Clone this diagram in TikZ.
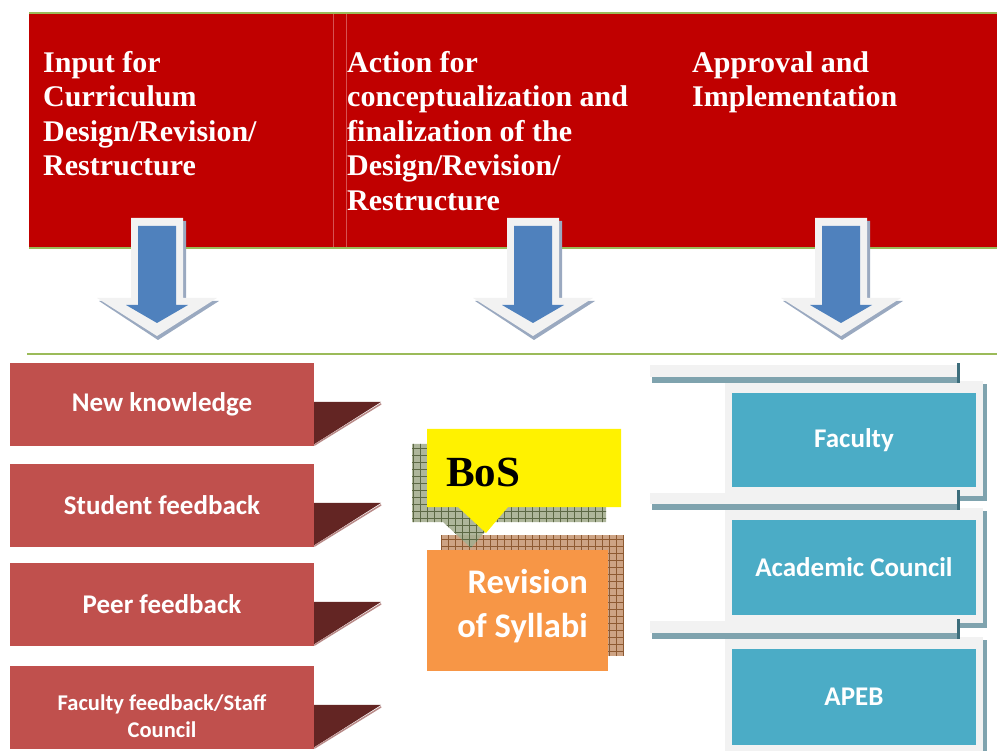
\documentclass[tikz,border=0pt]{standalone}
\usepackage{fontspec}
\setmainfont{Liberation Serif}
\newfontfamily\calibri{Carlito}
\definecolor{hdrred}{HTML}{C00000}
\definecolor{sepred}{HTML}{D65252}
\definecolor{grn}{HTML}{9BBB59}
\definecolor{boxred}{HTML}{C0504D}
\definecolor{wedge}{HTML}{632523}
\definecolor{wedgelt}{HTML}{B88A88}
\definecolor{arrblue}{HTML}{4F81BD}
\definecolor{arrsh}{HTML}{9AA9C0}
\definecolor{paleg}{HTML}{F2F2F2}
\definecolor{tealbox}{HTML}{4BACC6}
\definecolor{tealsh}{HTML}{7FA3AE}
\definecolor{tealdk}{HTML}{3D6E7C}
\definecolor{orng}{HTML}{F79646}
\definecolor{revsh}{HTML}{CDA384}
\definecolor{revln}{HTML}{8E5A32}
\definecolor{bossh}{HTML}{A5AE90}
\definecolor{bosln}{HTML}{5C6845}
\begin{document}
\begin{tikzpicture}[x=1pt,y=-1pt,
    hdr/.style={anchor=north west,inner sep=0,align=left,text=white,
      font=\bfseries\fontsize{30}{34.5}\selectfont},
    inbox/.style={fill=boxred,text=white,minimum width=304,minimum height=83,
      inner sep=0,align=center,font=\calibri\bfseries\fontsize{27}{32}\selectfont},
    tbox/.style={fill=tealbox,text=white,minimum width=244,minimum height=95,
      inner sep=0,font=\calibri\bfseries\fontsize{27}{32}\selectfont}]
    \useasboundingbox (0,0) rectangle (997,751);
    % header band
    \fill[hdrred] (29,14) rectangle (997,247);
    \draw[sepred,line width=0.8] (333,14) -- (333,247);
    \draw[sepred,line width=0.8] (346,14) -- (346,247);
    \draw[grn,line width=2.5] (29,13) -- (997,13);
    \draw[grn,line width=2.5] (29,248) -- (997,248);
    \draw[grn,line width=2.5] (27,354) -- (997,354);
    \node[hdr] (h1) at (43,51) {Input for\\Curriculum\\Design/Revision/\\Restructure};
    \node[hdr] (h2) at (347,51) {Action for\\conceptualization and\\finalization of the\\Design/Revision/\\Restructure};
    \node[hdr] (h3) at (692,51) {Approval and\\Implementation};
    % block arrows
    \foreach \c in {157,533,841} {
        \fill[arrsh] (\c-24,221) -- (\c+29,221) -- (\c+29,301) -- (\c+62,301) -- (\c+1,340)
          -- (\c-58,301) -- (\c-24,301) -- cycle;
        \fill[paleg] (\c-26,218) -- (\c+26,218) -- (\c+26,298) -- (\c+60,298) -- (\c,336)
          -- (\c-60,298) -- (\c-26,298) -- cycle;
        \fill[arrblue] (\c-19,226) -- (\c+19,226) -- (\c+19,305) -- (\c+31,305) -- (\c,323)
          -- (\c-31,305) -- (\c-19,305) -- cycle;
      }
    % inputs
    \node[inbox] (nk) at (162,404.5) {New knowledge};
    \node[inbox] (sf) at (162,505.5) {Student feedback};
    \node[inbox] (pf) at (162,604.5) {Peer feedback};
    \node[inbox,font=\calibri\bfseries\fontsize{22.5}{27}\selectfont] (ff) at (162,707.5)
      {\rule{0pt}{33pt}Faculty feedback/Staff\\Council};
    \foreach \n in {nk,sf,pf,ff} {
        \fill[wedge] ([yshift=-39pt]\n.north east) -- ++(67,0) -- ([yshift=2pt]\n.south east) -- cycle;
        \draw[wedgelt,line width=1.5] ([xshift=67pt,yshift=-41pt]\n.north east)
          -- ([yshift=1pt]\n.south east);
      }
    % BoS and revision
    \fill[revsh] (441,535) rectangle (623,656);
    \draw[revln,step=7pt,line width=0.5] (441,535) grid (623,656);
    \begin{scope}
        \clip (412,444) -- (606,444) -- (606,522) -- (493,522) -- (471,548) -- (443,522)
          -- (412,522) -- cycle;
        \fill[bossh,opacity=0.9] (400,440) rectangle (610,550);
        \draw[bosln,step=7pt,line width=0.5] (400,440) grid (610,550);
    \end{scope}
    \fill[orng] (427,550) rectangle (608,671);
    \node[anchor=east,inner sep=0,align=right,text=white,
      font=\calibri\bfseries\fontsize{34.5}{44}\selectfont] (rev) at (588,606) {Revision\\of Syllabi};
    \fill[yellow] (427,429) -- (621,429) -- (621,507) -- (508,507) -- (486,533) -- (458,507)
      -- (427,507) -- cycle;
    \node[anchor=west,inner sep=0,font=\bfseries\fontsize{43}{48}\selectfont] (bos) at (446,472) {BoS};
    % approval bodies
    \foreach \t/\b in {393/365,520/493,649/621} {
        \fill[paleg] (725,\t-12) rectangle (983,\t+103);
        \fill[tealsh] (983,\t-9) rectangle (987,\t+107);
        \fill[tealsh] (727,\t+103) rectangle (987,\t+108);
        \fill[paleg] (650,\b) rectangle (957,\t-16);
        \fill[tealsh] (652,\t-16) rectangle (960,\t-10);
        \fill[tealdk] (957,\t-30) rectangle (960,\t-10);
      }
    \node[tbox,minimum height=94] (fac) at (854,440) {Faculty};
    \node[tbox] (ac) at (854,567.5) {Academic Council};
    \node[tbox,minimum height=96] (apeb) at (854,697) {APEB};
  \end{tikzpicture}
\end{document}
